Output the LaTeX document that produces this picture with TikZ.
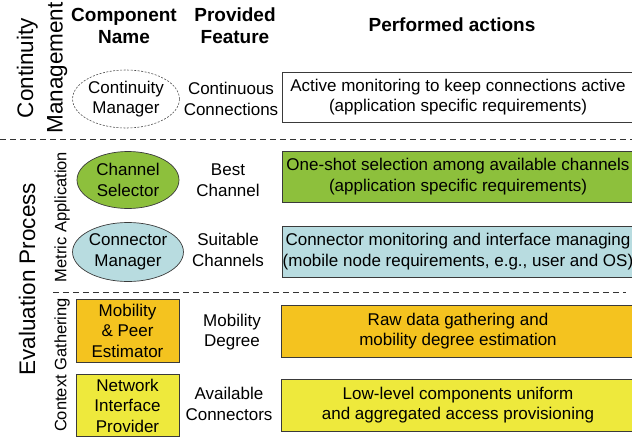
\documentclass[tikz,border=0pt]{standalone}
\usepackage{fontspec}
\setmainfont{Liberation Sans}
\usetikzlibrary{shapes.geometric}
\definecolor{cgreen}{HTML}{8DC03C}
\definecolor{cblue}{HTML}{B8DCE0}
\definecolor{corange}{HTML}{F4C31F}
\definecolor{cyellow}{HTML}{EEE93C}
\definecolor{cedge}{HTML}{3A3A3A}
\tikzset{
  body/.style={font=\fontsize{17}{20.5}\selectfont, align=center, inner sep=0pt},
  hdr/.style={font=\fontsize{19}{22}\selectfont\bfseries, align=center, inner sep=0pt},
  biglbl/.style={font=\fontsize{22.5}{29.5}\selectfont, align=center, inner sep=0pt, rotate=90},
  midlbl/.style={font=\fontsize{16.5}{19}\selectfont, align=center, inner sep=0pt, rotate=90},
  comp/.style={body, draw=cedge, line width=0.7pt},
  ell/.style={comp, ellipse, minimum width=102pt, minimum height=57pt},
  rbox/.style={comp, rectangle, minimum width=103pt},
  actbox/.style={draw=cedge, line width=0.7pt},
  sep/.style={dashed, dash pattern=on 6pt off 4pt, line width=1pt, black!80},
}
\begin{document}
\begin{tikzpicture}[x=1pt,y=-1pt]
\clip (0,0) rectangle (632,437);
\fill[white] (0,0) rectangle (632,437);

% headers
\node[hdr] (h1) at (124,26) {Component\\Name};
\node[hdr] (h2) at (235,26) {Provided\\Feature};
\node[hdr] (h3) at (452,25) {Performed actions};

% side labels
\node[biglbl] (lcm) at (42,68) {Continuity\\Management};
\node[biglbl] (lev) at (27,279) {Evaluation Process};
\node[midlbl] (lma) at (62,217) {Metric Application};
\node[midlbl] (lcg) at (62,365) {Context Gathering};

% separators
\coordinate (s1a) at (0,139);
\coordinate (s1b) at (632,139);
\coordinate (s2a) at (53,292);
\coordinate (s2b) at (626,292);
\draw[sep] (s1a) -- (s1b);
\draw[sep] (s2a) -- (s2b);

% component column
\node[ell, draw=black!70, dashed, dash pattern=on 2pt off 1.5pt, line width=0.6pt, minimum width=99pt, minimum height=58pt] (cm) at (126,99) {Continuity\\Manager};
\node[ell, fill=cgreen] (cs) at (128,180) {Channel\\Selector};
\node[ell, fill=cblue, minimum height=59pt] (cn) at (128,252) {Connector\\Manager};
\node[rbox, fill=corange, minimum height=63pt] (mp) at (127.5,330.5) {Mobility\\\&\ Peer\\Estimator};
\node[rbox, fill=cyellow, minimum height=62pt] (ni) at (127.5,405.5) {Network\\Interface\\Provider};

% feature column
\node[body] (f1) at (231,99) {Continuous\\Connections};
\node[body] (f2) at (228,180) {Best\\Channel};
\node[body] (f3) at (228,250) {Suitable\\Channels};
\node[body] (f4) at (232,332) {Mobility\\Degree};
\node[body] (f5) at (229,404) {Available\\Connectors};

% action boxes
\draw[actbox, fill=white] (282,72) rectangle (634,122);
\draw[actbox, fill=cgreen] (282,151) rectangle (634,202);
\draw[actbox, fill=cblue] (282,226) rectangle (634,277);
\draw[actbox, fill=corange] (281,305) rectangle (634,357);
\draw[actbox, fill=cyellow] (281,379) rectangle (634,431);

\node[body] (a1) at (458,97) {Active monitoring to keep connections active\\(application specific requirements)};
\node[body] (a2) at (458,176.5) {One-shot selection among available channels\\(application specific requirements)};
\node[body] (a3) at (458,251.5) {Connector monitoring and interface managing\\(mobile node requirements, e.g., user and OS)};
\node[body] (a4) at (458,331) {Raw data gathering and\\mobility degree estimation};
\node[body] (a5) at (458,405) {Low-level components uniform\\and aggregated access provisioning};
\end{tikzpicture}
\end{document}
